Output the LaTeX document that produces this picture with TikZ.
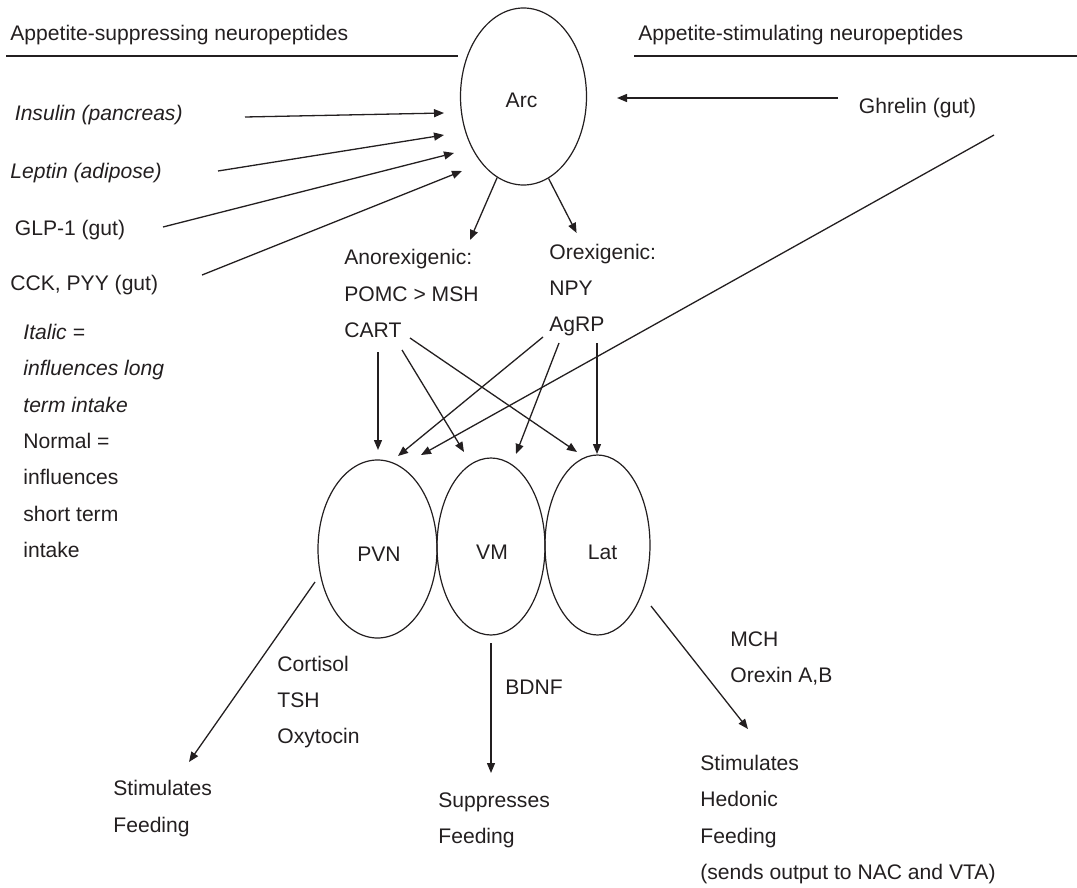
\documentclass[tikz,border=0pt]{standalone}
\usepackage{fontspec}
\setmainfont{Liberation Sans}
\usepackage{tikz}
\usetikzlibrary{arrows.meta, shapes.geometric}
\definecolor{ink}{RGB}{35,31,32}
\newcommand{\lblfont}{\fontsize{10.55pt}{18.2pt}\selectfont}
\tikzset{
  nucleus/.style={ellipse, draw=ink, line width=0.6pt, inner sep=0pt},
  core/.style={inner sep=0pt, text=ink, font=\lblfont},
  tag/.style={anchor=west, inner sep=0pt, align=left, text=ink, font=\lblfont},
  link/.style={draw=ink, line width=0.65pt, -{Triangle[length=5pt,width=4pt]}},
  rule/.style={draw=ink, line width=1pt},
}
\begin{document}
\begin{tikzpicture}[x=0.5pt, y=-0.5pt]
  \useasboundingbox (0,0) rectangle (1077,888);
  % headings
  \node[tag] (supp) at (10,35) {Appetite-suppressing neuropeptides};
  \node[tag] (stim) at (638,35) {Appetite-stimulating neuropeptides};
  \draw[rule] (6,56) -- (458,56);
  \draw[rule] (634,56) -- (1077,56);
  % nuclei
  \node[nucleus, minimum width=63pt, minimum height=88.5pt,
    label={[core, xshift=-1pt, yshift=-2pt]center:Arc}] (arc) at (523.5,96.5) {};
  \node[nucleus, minimum width=59.5pt, minimum height=89pt,
    label={[core, xshift=0.75pt, yshift=-2.5pt]center:PVN}] (pvn) at (377.5,549) {};
  \node[nucleus, minimum width=54pt, minimum height=88.5pt,
    label={[core, xshift=0.5pt, yshift=-2.75pt]center:VM}] (vm) at (491,546.5) {};
  \node[nucleus, minimum width=52.5pt, minimum height=90pt,
    label={[core, xshift=2.5pt, yshift=-3.5pt]center:Lat}] (lat) at (597.5,545) {};
  % signals into Arc
  \node[tag] (ins) at (14.5,115) {\textit{Insulin (pancreas)}};
  \node[tag] (lep) at (10,173) {\textit{Leptin (adipose)}};
  \node[tag] (glp) at (14.5,230) {GLP-1 (gut)};
  \node[tag] (cck) at (10,285) {CCK, PYY (gut)};
  \node[tag] (ghr) at (858.5,108) {Ghrelin (gut)};
  % Arc outputs
  \node[tag] (anor) at (344,293.5) {Anorexigenic:\\POMC > MSH\\CART};
  \node[tag] (orex) at (549,290) {Orexigenic:\\NPY\\AgRP};
  % key
  \node[tag] (key) at (23,441) {\textit{Italic =}\\\textit{influences long}\\\textit{term intake}\\Normal =\\influences\\short term\\intake};
  % outputs of the nuclei
  \node[tag] (horm) at (277,702) {Cortisol\\TSH\\Oxytocin};
  \node[tag] (stfeed) at (113,808.5) {Stimulates\\Feeding};
  \node[tag] (bdnf) at (505,687) {BDNF};
  \node[tag] (spfeed) at (438,820.5) {Suppresses\\Feeding};
  \node[tag] (mch) at (730,658.5) {MCH\\Orexin A,B};
  \node[tag] (hedon) at (700,819.5) {Stimulates\\Hedonic\\Feeding\\(sends output to NAC and VTA)};

  % arrow ends
  \coordinate (ins-a) at (245,117);   \coordinate (ins-b) at (444,113);
  \coordinate (lep-a) at (218,171);   \coordinate (lep-b) at (444,135);
  \coordinate (glp-a) at (163,227);   \coordinate (glp-b) at (454,153);
  \coordinate (cck-a) at (202,275);   \coordinate (cck-b) at (462,171);
  \coordinate (ghr-a) at (838,98);    \coordinate (ghr-b) at (617,98);
  \coordinate (ghr-c) at (994,135);
  \coordinate (anor-in) at (470,240); \coordinate (orex-in) at (576.6,233);
  \coordinate (cart-1) at (378,352);  \coordinate (cart-2) at (402,350);
  \coordinate (cart-3) at (410,338);
  \coordinate (agrp-1) at (543,337);  \coordinate (agrp-2) at (559,343);
  \coordinate (agrp-3) at (597,343);
  \coordinate (pvn-1) at (378,450);   \coordinate (pvn-2) at (398,456);
  \coordinate (pvn-3) at (421,455);
  \coordinate (vm-1) at (464,452);    \coordinate (vm-2) at (516,454);
  \coordinate (lat-1) at (577,452);   \coordinate (lat-2) at (597,454);
  \coordinate (pvn-out) at (315,582); \coordinate (stfeed-in) at (189,762);
  \coordinate (vm-out) at (491,643);  \coordinate (spfeed-in) at (491,773);
  \coordinate (lat-out) at (651,606); \coordinate (hedon-in) at (748,729);

  % into Arc
  \draw[link] (ins-a) -- (ins-b);
  \draw[link] (lep-a) -- (lep-b);
  \draw[link] (glp-a) -- (glp-b);
  \draw[link] (cck-a) -- (cck-b);
  \draw[link] (ghr-a) -- (ghr-b);
  % out of Arc
  \draw[link] (arc.252) -- (anor-in);
  \draw[link] (arc.287) -- (orex-in);
  % to the nuclei
  \draw[link] (cart-1) -- (pvn-1);
  \draw[link] (cart-2) -- (vm-1);
  \draw[link] (cart-3) -- (lat-1);
  \draw[link] (agrp-1) -- (pvn-2);
  \draw[link] (agrp-2) -- (vm-2);
  \draw[link] (agrp-3) -- (lat-2);
  \draw[link] (ghr-c) -- (pvn-3);
  % effects
  \draw[link] (pvn-out) -- (stfeed-in);
  \draw[link] (vm-out) -- (spfeed-in);
  \draw[link] (lat-out) -- (hedon-in);
\end{tikzpicture}
\end{document}
